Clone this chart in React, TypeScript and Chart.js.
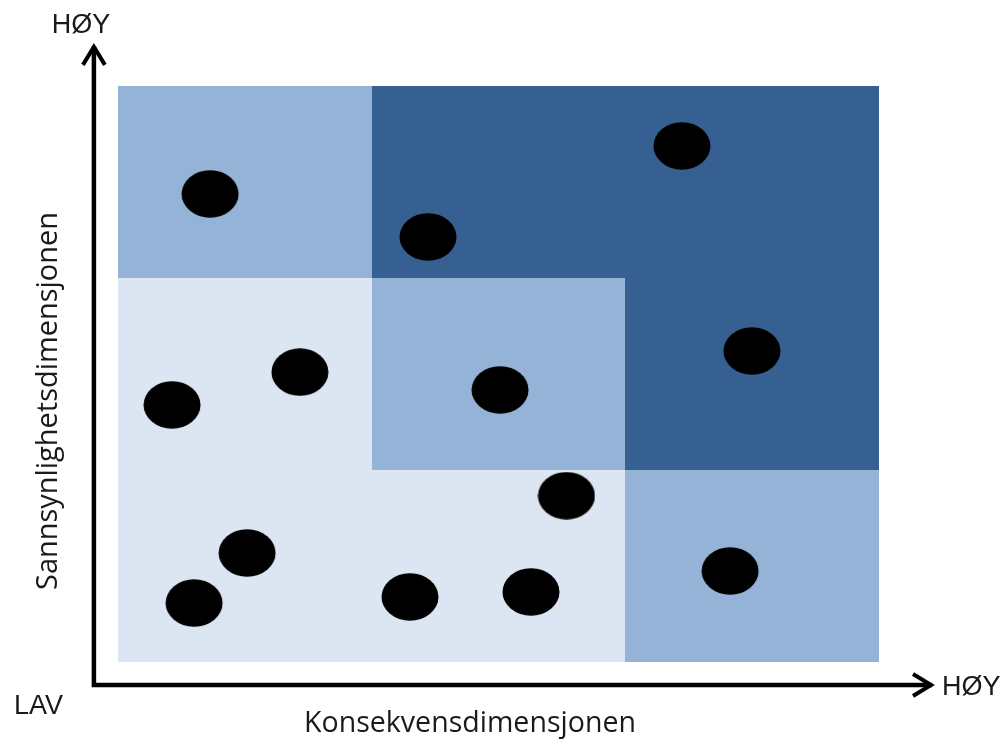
import React, { useEffect, useRef } from "react";
import { Chart, registerables } from "chart.js";

Chart.register(...registerables);

// ---- data ----
const CELL_COLORS: Record<string, string> = {
  lav: "#DCE6F2",
  middels: "#95B3D7",
  hoy: "#376092",
};
// rows from bottom (probability 0..1) to top (2..3), columns left to right (consequence)
const CELL_ROW_BOTTOM = ["lav", "lav", "middels"];
const CELL_ROW_MIDDLE = ["lav", "middels", "hoy"];
const CELL_ROW_TOP = ["middels", "hoy", "hoy"];
const CELL_ROWS = [CELL_ROW_BOTTOM, CELL_ROW_MIDDLE, CELL_ROW_TOP];

// risk items: consequence (x) and probability (y), in cell units 0..3
const RISK_X = [0.363, 1.222, 2.223, 0.717, 0.213, 1.506, 2.499, 1.768, 0.509, 0.3, 1.151, 1.628, 2.413];
const RISK_Y = [2.438, 2.214, 2.688, 1.51, 1.339, 1.417, 1.62, 0.866, 0.568, 0.307, 0.339, 0.365, 0.474];

const LABEL_HIGH = "HØY";
const LABEL_LOW = "LAV";
const X_TITLE = "Konsekvensdimensjonen";
const Y_TITLE = "Sannsynlighetsdimensjonen";

// axis geometry in scale units
const AXIS_X_POS = -0.095;
const AXIS_Y_POS = -0.12;
const AXIS_X_TIP = 3.213;
const AXIS_Y_TIP = 3.214;

const TEXT_COLOR = "#1a1a1a";

function makeEllipse(): HTMLCanvasElement {
  const c = document.createElement("canvas");
  c.width = 58;
  c.height = 48;
  const ctx = c.getContext("2d")!;
  ctx.fillStyle = "#000";
  ctx.beginPath();
  ctx.ellipse(29, 24, 28.5, 23.8, 0, 0, Math.PI * 2);
  ctx.fill();
  return c;
}

function fitFont(ctx: CanvasRenderingContext2D, text: string, family: string, target: number): string {
  ctx.font = `100px ${family}`;
  const w = ctx.measureText(text).width;
  const size = (100 * target) / w;
  return `${size.toFixed(2)}px ${family}`;
}

const cellsPlugin = {
  id: "riskCells",
  beforeDatasetsDraw(chart: any) {
    const { ctx, scales } = chart;
    const xs = scales.x;
    const ys = scales.y;
    ctx.save();
    CELL_ROWS.forEach((row, r) => {
      row.forEach((level, c) => {
        const x0 = xs.getPixelForValue(c);
        const x1 = xs.getPixelForValue(c + 1);
        const y0 = ys.getPixelForValue(r + 1);
        const y1 = ys.getPixelForValue(r);
        ctx.fillStyle = CELL_COLORS[level];
        ctx.fillRect(Math.round(x0), Math.round(y0), Math.round(x1) - Math.round(x0), Math.round(y1) - Math.round(y0));
      });
    });
    ctx.restore();
  },
};

const axesPlugin = {
  id: "riskAxes",
  afterDraw(chart: any) {
    const { ctx, scales } = chart;
    const xs = scales.x;
    const ys = scales.y;
    const ax = xs.getPixelForValue(AXIS_X_POS);
    const ay = ys.getPixelForValue(AXIS_Y_POS);
    const xt = xs.getPixelForValue(AXIS_X_TIP);
    const yt = ys.getPixelForValue(AXIS_Y_TIP);
    ctx.save();
    ctx.strokeStyle = "#000";
    ctx.lineWidth = 4.5;
    ctx.lineCap = "butt";
    ctx.lineJoin = "miter";
    // axes lines
    ctx.beginPath();
    ctx.moveTo(ax, yt + 1);
    ctx.lineTo(ax, ay);
    ctx.lineTo(xt - 1, ay);
    ctx.stroke();
    // arrow heads
    ctx.lineWidth = 4;
    ctx.lineJoin = "miter";
    ctx.beginPath();
    ctx.moveTo(ax - 11, yt + 20);
    ctx.lineTo(ax, yt + 2);
    ctx.lineTo(ax + 11, yt + 20);
    ctx.stroke();
    ctx.beginPath();
    ctx.moveTo(xt - 20, ay - 11);
    ctx.lineTo(xt - 2, ay);
    ctx.lineTo(xt - 20, ay + 11);
    ctx.stroke();

    // labels
    ctx.fillStyle = TEXT_COLOR;
    ctx.font = '27px "Liberation Sans", Arial, sans-serif';
    ctx.textBaseline = "alphabetic";
    ctx.textAlign = "center";
    ctx.fillText(LABEL_HIGH, ax - 13, yt - 12);
    ctx.textAlign = "left";
    ctx.fillText(LABEL_HIGH, xt + 9, ay + 10);
    ctx.fillText(LABEL_LOW, 14, ay + 29);

    // titles
    const fam = '"Open Sans", "Noto Sans", sans-serif';
    ctx.textAlign = "center";
    ctx.font = fitFont(ctx, X_TITLE, fam, 332);
    ctx.fillText(X_TITLE, 470, 732);

    ctx.save();
    ctx.translate(57, 401);
    ctx.rotate(-Math.PI / 2);
    ctx.font = fitFont(ctx, Y_TITLE, fam, 378);
    ctx.fillText(Y_TITLE, 0, 0);
    ctx.restore();

    ctx.restore();
  },
};

export default function App() {
  const ref = useRef<HTMLCanvasElement | null>(null);

  useEffect(() => {
    if (!ref.current) return;
    const points = RISK_X.map((x, i) => ({ x, y: RISK_Y[i] }));
    const chart = new Chart(ref.current, {
      type: "scatter",
      data: {
        datasets: [
          {
            data: points,
            pointStyle: makeEllipse() as any,
            pointRadius: 29,
            backgroundColor: "#000",
            borderWidth: 0,
            clip: false as any,
          },
        ],
      },
      options: {
        responsive: false,
        animation: false,
        events: [],
        layout: { padding: { left: 118, right: 126, top: 86, bottom: 84 } },
        scales: {
          x: { type: "linear", min: 0, max: 3, display: false },
          y: { type: "linear", min: 0, max: 3, display: false },
        },
        plugins: {
          legend: { display: false },
          tooltip: { enabled: false },
        },
      },
      plugins: [cellsPlugin, axesPlugin],
    });
    return () => chart.destroy();
  }, []);

  return (
    <div style={{ position: "absolute", left: 0, top: 0, width: 1005, height: 746, background: "#fff" }}>
      <canvas ref={ref} width={1005} height={746} style={{ width: 1005, height: 746, display: "block" }} />
    </div>
  );
}
